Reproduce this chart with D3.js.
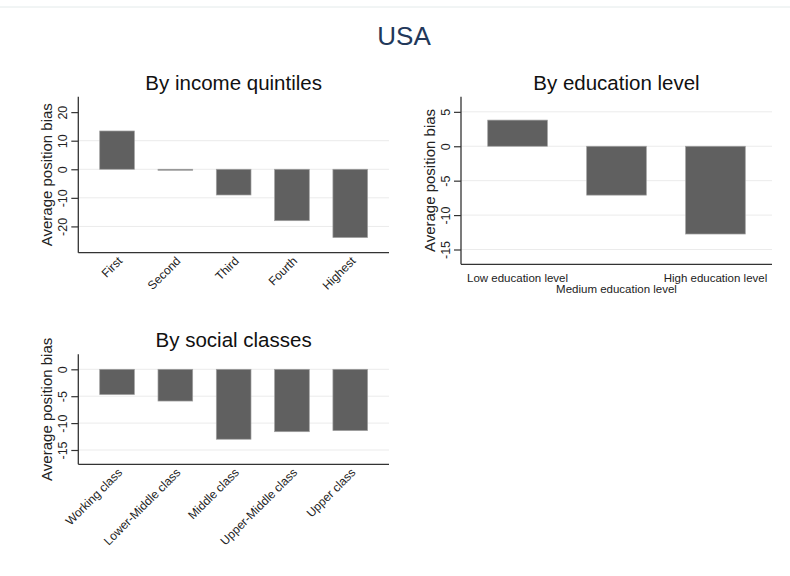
<!DOCTYPE html>
<html>
<head>
<meta charset="utf-8">
<script src="https://cdn.jsdelivr.net/npm/d3@7"></script>
<style>
  body { margin: 0; background: #fff; }
  svg { font-family: Arial, 'Liberation Sans', sans-serif; }
</style>
</head>
<body>
<svg id="chart" width="790" height="576"></svg>
<script>
// data
const incomeCategories = ['First', 'Second', 'Third', 'Fourth', 'Highest']
const incomeValues = [13.4, -0.3, -9.0, -18.0, -23.9]
const incomeTicks = [20, 10, 0, -10, -20]
const incomeGrid = [10, 0, -10, -20]

const educationCategories = ['Low education level', 'Medium education level', 'High education level']
const educationValues = [3.8, -7.1, -12.75]
const educationTicks = [5, 0, -5, -10, -15]

const classCategories = ['Working class', 'Lower-Middle class', 'Middle class', 'Upper-Middle class', 'Upper class']
const classValues = [-4.7, -5.9, -13.0, -11.6, -11.4]
const classTicks = [0, -5, -10, -15]

const svg = d3.select('#chart')

// faint page border line at the top
svg.append('line')
  .attr('x1', 0).attr('x2', 790)
  .attr('y1', 7).attr('y2', 7)
  .attr('stroke', '#e3eaea')
  .attr('stroke-width', 1)

svg.append('text')
  .attr('x', 404)
  .attr('y', 45)
  .attr('text-anchor', 'middle')
  .attr('font-size', '26px')
  .attr('fill', '#22385a')
  .text('USA')

function drawPanel(opts) {
  const { title, categories, values, ticks, grid, box, domain, padIn, padOut, labelMode } = opts
  const g = svg.append('g')

  const x = d3.scaleBand()
    .domain(categories)
    .range([box.left, box.right])
    .paddingInner(padIn)
    .paddingOuter(padOut)

  const y = d3.scaleLinear()
    .domain(domain)
    .range([box.bottom, box.top])

  // grid lines
  g.selectAll('line.grid')
    .data(grid)
    .join('line')
    .attr('class', 'grid')
    .attr('x1', box.left)
    .attr('x2', box.right)
    .attr('y1', d => y(d))
    .attr('y2', d => y(d))
    .attr('stroke', '#ebebeb')
    .attr('stroke-width', 1)

  // bars
  g.selectAll('rect')
    .data(values)
    .join('rect')
    .attr('x', (d, i) => x(categories[i]))
    .attr('width', x.bandwidth())
    .attr('y', d => y(Math.max(0, d)))
    .attr('height', d => Math.max(1, Math.abs(y(d) - y(0))))
    .attr('fill', '#606060')
    .attr('stroke', '#a0a0a0')
    .attr('stroke-width', 0.7)

  // y axis (plain hyphen minus like the original)
  const yAxis = g.append('g')
    .attr('transform', `translate(${box.left},0)`)
    .call(d3.axisLeft(y).tickValues(ticks).tickSize(7).tickPadding(3).tickFormat(d => String(d)))
  yAxis.select('.domain').remove()
  yAxis.selectAll('.tick line').attr('stroke', '#333').attr('stroke-width', 1.2)
  yAxis.selectAll('.tick text')
    .attr('x', null).attr('dy', null)
    .attr('text-anchor', 'middle')
    .attr('transform', 'translate(-11,0) rotate(-90)')
    .attr('font-size', '12.5px')
    .attr('fill', '#222')

  g.append('line')
    .attr('x1', box.left).attr('x2', box.left)
    .attr('y1', box.top).attr('y2', box.bottom)
    .attr('stroke', '#333').attr('stroke-width', 1.3)
  g.append('line')
    .attr('x1', box.left).attr('x2', box.right)
    .attr('y1', box.bottom).attr('y2', box.bottom)
    .attr('stroke', '#333').attr('stroke-width', 1.3)

  // y title
  g.append('text')
    .attr('transform', `translate(${box.left - 26},${(box.top + box.bottom) / 2}) rotate(-90)`)
    .attr('text-anchor', 'middle')
    .attr('font-size', '15px')
    .attr('fill', '#222')
    .text('Average position bias')

  // x labels
  const labels = g.selectAll('text.xlab')
    .data(categories)
    .join('text')
    .attr('class', 'xlab')
    .attr('font-size', labelMode === 'rotate' ? '12px' : '11.5px')
    .attr('fill', '#222')
    .text(d => d)

  if (labelMode === 'rotate') {
    labels
      .attr('text-anchor', 'end')
      .attr('transform', d => `translate(${x(d) + x.bandwidth() / 2 + 6},${box.bottom + 9}) rotate(-45)`)
  } else {
    labels
      .attr('text-anchor', 'middle')
      .attr('x', d => x(d) + x.bandwidth() / 2)
      .attr('y', (d, i) => box.bottom + (i % 2 === 0 ? 18 : 29))
  }

  // panel title
  g.append('text')
    .attr('x', (box.left + box.right) / 2)
    .attr('y', box.top - 7)
    .attr('text-anchor', 'middle')
    .attr('font-size', '20.5px')
    .attr('fill', '#111')
    .text(title)
}

drawPanel({
  title: 'By income quintiles',
  categories: incomeCategories,
  values: incomeValues,
  ticks: incomeTicks,
  grid: incomeGrid,
  box: { left: 78.3, right: 389, top: 96.7, bottom: 252.7 },
  domain: [-29.2, 25.4],
  padIn: 0.405,
  padOut: 0.367,
  labelMode: 'rotate'
})

drawPanel({
  title: 'By education level',
  categories: educationCategories,
  values: educationValues,
  ticks: educationTicks,
  grid: educationTicks,
  box: { left: 461, right: 772, top: 96.7, bottom: 264.3 },
  domain: [-17.15, 7.2],
  padIn: 0.397,
  padOut: 0.27,
  labelMode: 'stagger'
})

drawPanel({
  title: 'By social classes',
  categories: classCategories,
  values: classValues,
  ticks: classTicks,
  grid: classTicks,
  box: { left: 78.3, right: 389, top: 354.3, bottom: 464.3 },
  domain: [-17.66, 2.79],
  padIn: 0.405,
  padOut: 0.367,
  labelMode: 'rotate'
})
</script>
</body>
</html>
